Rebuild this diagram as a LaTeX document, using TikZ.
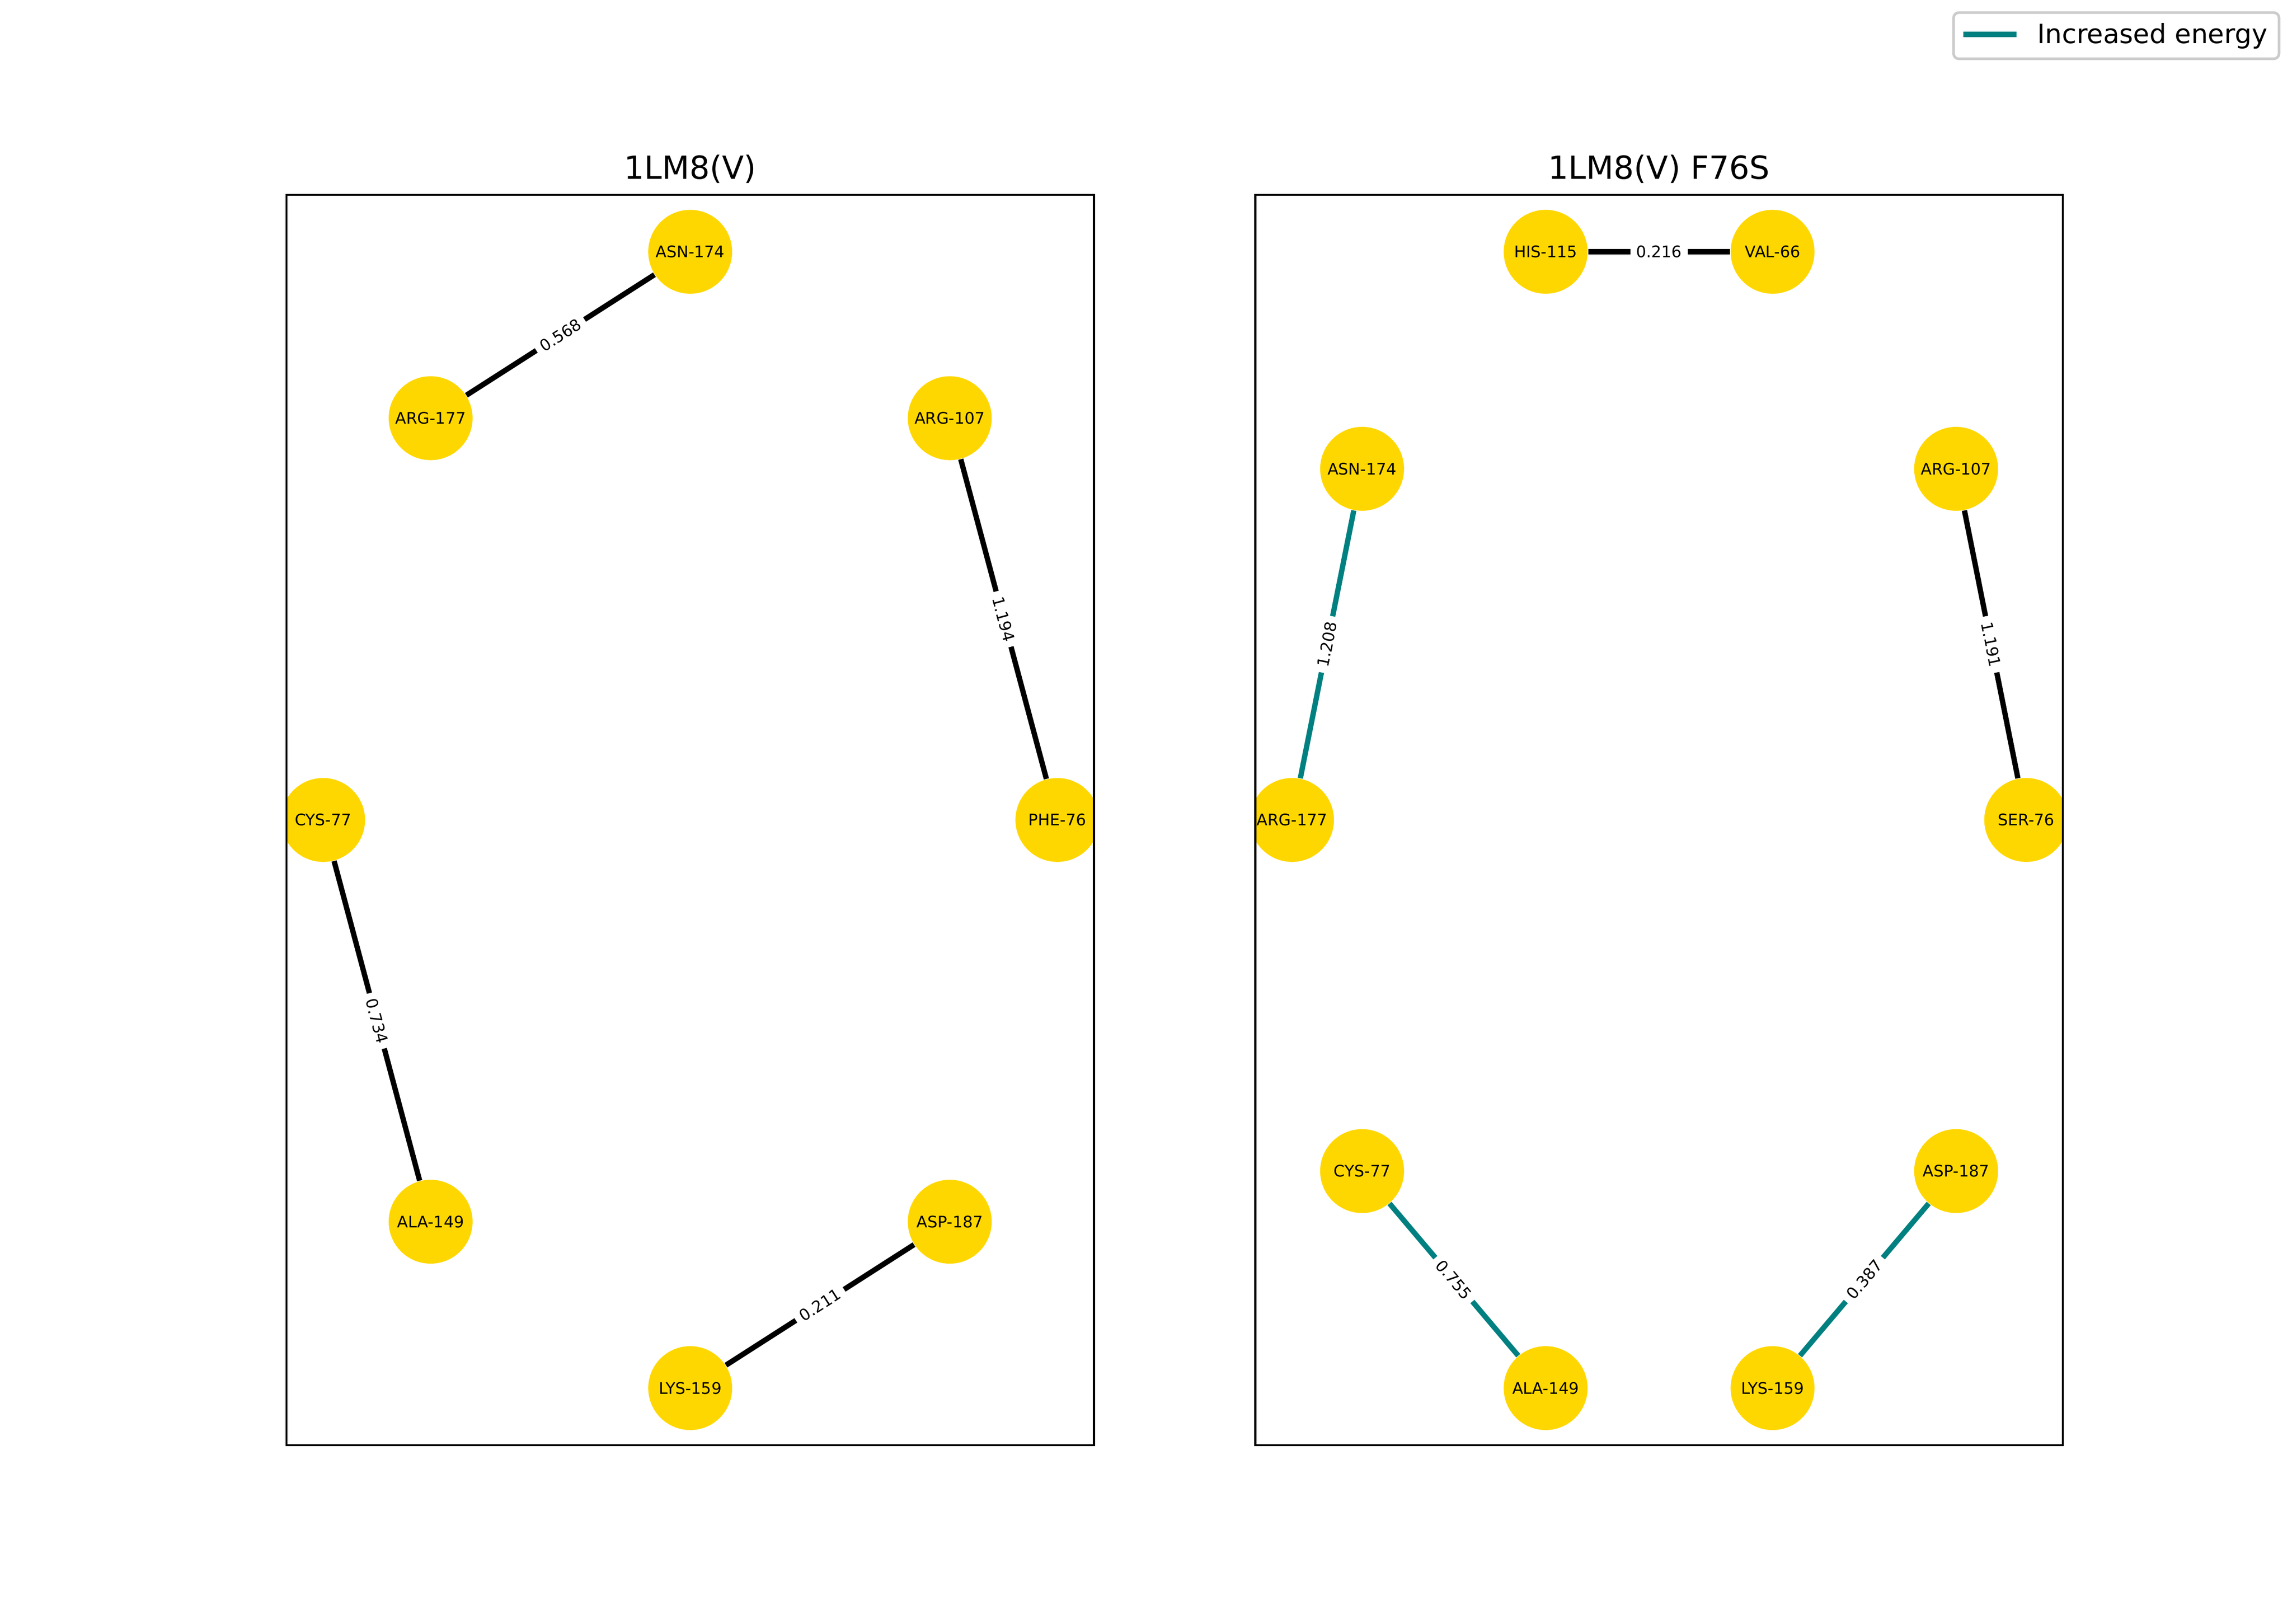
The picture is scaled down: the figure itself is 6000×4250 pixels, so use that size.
\documentclass[tikz,border=0pt]{standalone}
\usepackage{fontspec}
\setmainfont{DejaVu Sans}
\definecolor{gold}{RGB}{255,215,0}
\definecolor{tealc}{RGB}{0,128,128}
\definecolor{legframe}{gray}{0.8}
\begin{document}
\begin{tikzpicture}[x=0.144pt,y=-0.144pt,
  res/.style={circle, fill=gold, minimum size=31.62pt, inner sep=0pt, font=\fontsize{6}{7}\selectfont},
  link/.style={line width=2pt, black},
  inc/.style={line width=2pt, tealc},
  wlabel/.style={midway, sloped, fill=white, rounded corners=1.5pt, inner sep=2.2pt, font=\fontsize{6}{7}\selectfont, text=black},
  axframe/.style={line width=0.8pt, black},
  ttl/.style={anchor=base, inner sep=0pt, font=\fontsize{12}{14}\selectfont}]
\useasboundingbox (0,0) rectangle (6000,4250);
\fill[white] (0,0) rectangle (6000,4250);

% titles
\node[ttl] (t1) at (1806.8,468.3) {1LM8(V)};
\node[ttl] (t2) at (4343.2,468.3) {1LM8(V) F76S};

% left panel
\begin{scope}
\clip (750,510) rectangle (2863.6,3782.5);
\node[res] (lPHE) at (2768,2146) {PHE-76};
\node[res] (lARG107) at (2486.3,1094.5) {ARG-107};
\node[res] (lASN) at (1806.8,659) {ASN-174};
\node[res] (lARG177) at (1127.3,1094.5) {ARG-177};
\node[res] (lCYS) at (845.8,2146) {CYS-77};
\node[res] (lALA) at (1127.3,3197.5) {ALA-149};
\node[res] (lLYS) at (1806.8,3633) {LYS-159};
\node[res] (lASP) at (2486.3,3197.5) {ASP-187};
\draw[link] (lARG177) -- node[wlabel] {0.568} (lASN);
\draw[link] (lARG107) -- node[wlabel] {1.194} (lPHE);
\draw[link] (lCYS) -- node[wlabel] {0.734} (lALA);
\draw[link] (lLYS) -- node[wlabel] {0.211} (lASP);
\end{scope}

% right panel
\begin{scope}
\clip (3286.4,510) rectangle (5400,3782.5);
\node[res] (rSER) at (5304.2,2146) {SER-76};
\node[res] (rARG107) at (5120.7,1227) {ARG-107};
\node[res] (rVAL) at (4640.2,659) {VAL-66};
\node[res] (rHIS) at (4046.2,659) {HIS-115};
\node[res] (rASN) at (3565.7,1227) {ASN-174};
\node[res] (rARG177) at (3382.2,2146) {ARG-177};
\node[res] (rCYS) at (3565.7,3065) {CYS-77};
\node[res] (rALA) at (4046.2,3633) {ALA-149};
\node[res] (rLYS) at (4640.2,3633) {LYS-159};
\node[res] (rASP) at (5120.7,3065) {ASP-187};
\draw[link] (rHIS) -- node[wlabel] {0.216} (rVAL);
\draw[inc] (rASN) -- node[wlabel] {1.208} (rARG177);
\draw[link] (rARG107) -- node[wlabel] {1.191} (rSER);
\draw[inc] (rCYS) -- node[wlabel] {0.755} (rALA);
\draw[inc] (rASP) -- node[wlabel] {0.387} (rLYS);
\end{scope}

% axes frames
\draw[axframe] (750,510) rectangle (2863.6,3782.5);
\draw[axframe] (3286.4,510) rectangle (5400,3782.5);

% legend
\draw[legframe, fill=white, line width=1pt, rounded corners=2pt] (5114,33) rectangle (5966,154);
\coordinate (h1) at (5140,90);
\coordinate (h2) at (5279,90);
\draw[inc] (h1) -- (h2);
\node[anchor=base west, inner sep=0pt, font=\fontsize{10}{12}\selectfont] (legtext) at (5332,114) {Increased energy};
\end{tikzpicture}
\end{document}
